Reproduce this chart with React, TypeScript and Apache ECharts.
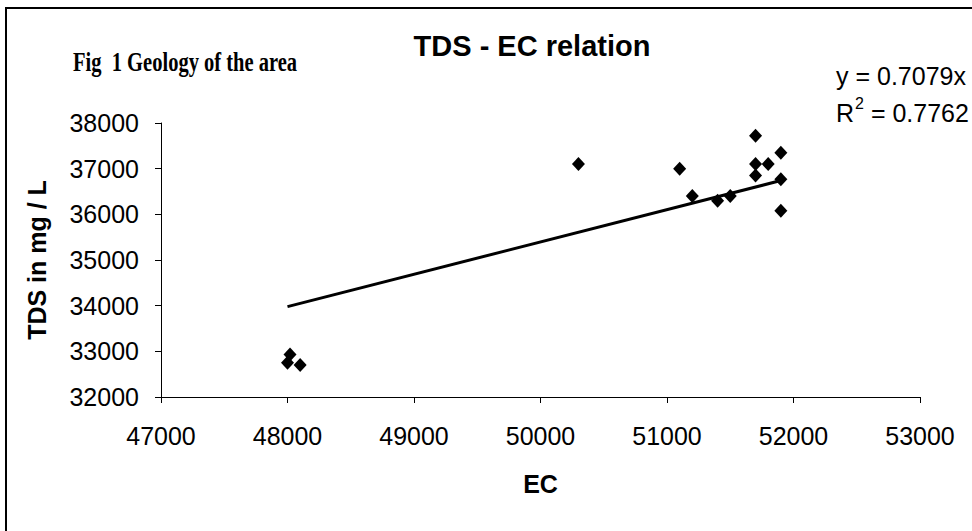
import React, { useEffect, useRef } from "react";
import * as echarts from "echarts";

const ecValues = [48000, 48020, 48100, 50300, 51100, 51200, 51400, 51500, 51700, 51700, 51700, 51800, 51900, 51900, 51900];
const tdsValues = [32750, 32930, 32700, 37100, 37000, 36400, 36300, 36400, 37720, 37100, 36850, 37100, 37350, 36770, 36080];
const trendX = [48000, 51900];
const trendY = [33980, 36740];
const xTicks = { min: 47000, max: 53000, interval: 1000 };
const yTicks = { min: 32000, max: 38000, interval: 1000 };

const SANS = "'Liberation Sans', Arial, sans-serif";
const SERIF = "'Liberation Serif', 'Times New Roman', serif";

export default function App() {
  const ref = useRef<HTMLDivElement>(null);
  useEffect(() => {
    if (!ref.current) return;
    const chart = echarts.init(ref.current, null, { renderer: "svg" });
    const points = ecValues.map((x, i) => [x, tdsValues[i]]);
    const trend = trendX.map((x, i) => [x, trendY[i]]);
    const plain = (v: number) => String(v);
    chart.setOption({
      animation: false,
      backgroundColor: "#ffffff",
      grid: { left: 161, top: 123, right: 52, bottom: 134, containLabel: false },
      xAxis: {
        type: "value",
        min: xTicks.min,
        max: xTicks.max,
        interval: xTicks.interval,
        name: "EC",
        nameLocation: "middle",
        nameGap: 74,
        nameTextStyle: { fontFamily: SANS, fontSize: 25, fontWeight: "bold", color: "#000" },
        axisLine: { lineStyle: { color: "#000", width: 1 } },
        axisTick: { show: true, length: 6, lineStyle: { color: "#000" } },
        axisLabel: { fontFamily: SANS, fontSize: 25, color: "#000", margin: 26, formatter: plain },
        splitLine: { show: false },
      },
      yAxis: {
        type: "value",
        min: yTicks.min,
        max: yTicks.max,
        interval: yTicks.interval,
        name: "TDS in mg / L",
        nameLocation: "middle",
        nameGap: 112,
        nameTextStyle: { fontFamily: SANS, fontSize: 25, fontWeight: "bold", color: "#000" },
        axisLine: { show: true, lineStyle: { color: "#000", width: 1 } },
        axisTick: { show: true, length: 6, lineStyle: { color: "#000" } },
        axisLabel: { fontFamily: SANS, fontSize: 25, color: "#000", margin: 22, formatter: plain },
        splitLine: { show: false },
      },
      series: [
        {
          type: "line",
          data: trend,
          showSymbol: false,
          symbol: "none",
          lineStyle: { color: "#000", width: 3 },
          silent: true,
          z: 2,
        },
        {
          type: "scatter",
          data: points,
          symbol: "diamond",
          symbolSize: [13, 14],
          itemStyle: { color: "#000", opacity: 1 },
          z: 3,
        },
      ],
      graphic: [
        {
          type: "rect",
          shape: { x: 6, y: 8, width: 1100, height: 700 },
          style: { fill: "none", stroke: "#000", lineWidth: 2 },
          silent: true,
        },
        {
          type: "text",
          x: 532,
          y: 46,
          style: {
            text: "TDS - EC relation",
            fontFamily: SANS,
            fontSize: 29,
            fontWeight: "bold",
            fill: "#000",
            align: "center",
            verticalAlign: "middle",
          },
        },
        {
          type: "text",
          x: 73,
          y: 62,
          scaleX: 0.76,
          style: {
            text: "Fig  1 Geology of the area",
            fontFamily: SERIF,
            fontSize: 27,
            fontWeight: "bold",
            fill: "#000",
            align: "left",
            verticalAlign: "middle",
          },
        },
        {
          type: "text",
          x: 836,
          y: 76,
          style: {
            text: "y = 0.7079x",
            fontFamily: SANS,
            fontSize: 25,
            fill: "#000",
            align: "left",
            verticalAlign: "middle",
          },
        },
        {
          type: "text",
          x: 836,
          y: 110,
          style: {
            text: "{r|R}{s|2}{r| = 0.7762}",
            align: "left",
            verticalAlign: "middle",
            rich: {
              r: { fontFamily: SANS, fontSize: 25, color: "#000", verticalAlign: "bottom" },
              s: { fontFamily: SANS, fontSize: 16, color: "#000", verticalAlign: "top", padding: [0, 0, 14, 1] },
            },
          },
        },
      ],
    });
    return () => chart.dispose();
  }, []);
  return (
    <div
      ref={ref}
      style={{ position: "fixed", left: 0, top: 0, width: 972, height: 531, background: "#fff" }}
    />
  );
}
